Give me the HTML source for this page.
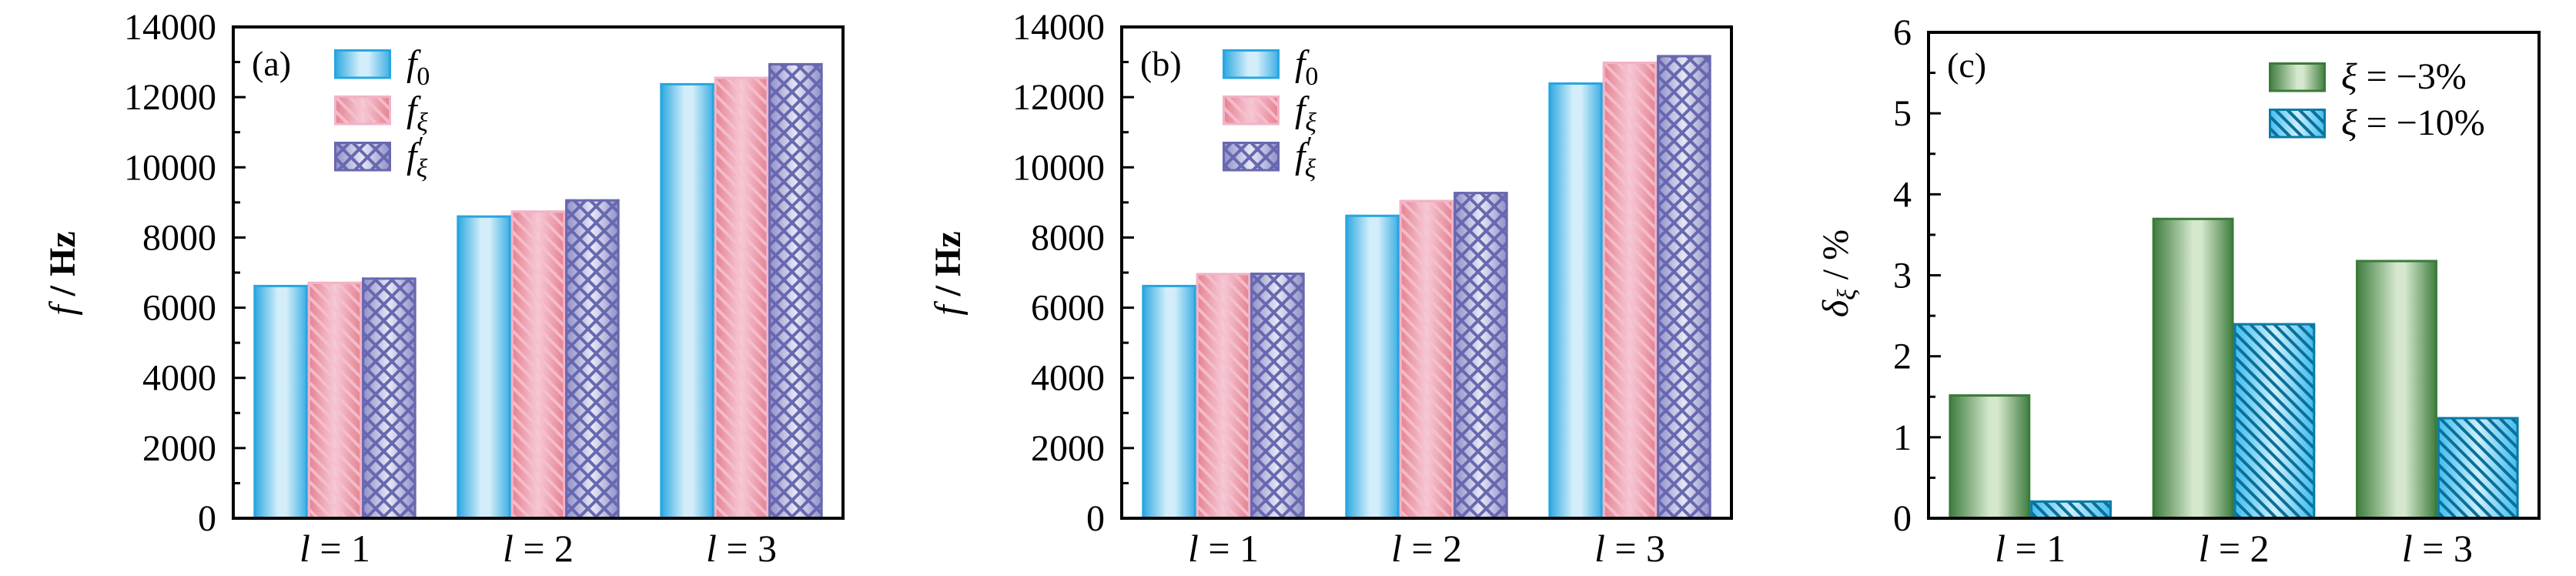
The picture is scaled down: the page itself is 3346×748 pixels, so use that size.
<!DOCTYPE html>
<html><head><meta charset="utf-8"><style>
html,body{margin:0;padding:0;background:#fff;}
svg{display:block;}
svg text{font-family:"Liberation Serif","DejaVu Serif",serif;}
</style></head>
<body>
<svg id="chart" width="3346" height="748" viewBox="0 0 3346 748" xmlns="http://www.w3.org/2000/svg">
<defs>
  <linearGradient id="gBlue" x1="0" x2="1" y1="0" y2="0">
    <stop offset="0" stop-color="#27a6e0"/><stop offset="0.45" stop-color="#d3eefa"/><stop offset="0.6" stop-color="#d3eefa"/><stop offset="1" stop-color="#36ace2"/>
  </linearGradient>
  <linearGradient id="gPink" x1="0" x2="1" y1="0" y2="0">
    <stop offset="0" stop-color="#e57f8d"/><stop offset="0.5" stop-color="#f5c9d5"/><stop offset="1" stop-color="#e57f8d"/>
  </linearGradient>
  <linearGradient id="gPurple" x1="0" x2="1" y1="0" y2="0">
    <stop offset="0" stop-color="#8c8cc6"/><stop offset="0.5" stop-color="#e6e6f5"/><stop offset="1" stop-color="#8c8cc6"/>
  </linearGradient>
  <linearGradient id="gGreen" x1="0" x2="1" y1="0" y2="0">
    <stop offset="0" stop-color="#3b7a3b"/><stop offset="0.5" stop-color="#d5e8cd"/><stop offset="0.6" stop-color="#d5e8cd"/><stop offset="1" stop-color="#3b7a3b"/>
  </linearGradient>
  <linearGradient id="gCyan" x1="0" x2="1" y1="0" y2="0">
    <stop offset="0" stop-color="#3cbcef"/><stop offset="0.5" stop-color="#cdeffc"/><stop offset="1" stop-color="#3cbcef"/>
  </linearGradient>
  <pattern id="pPink" width="13" height="13" patternUnits="userSpaceOnUse" patternTransform="rotate(45)">
    <rect x="0" y="0" width="13" height="4" fill="#f7bfd0" opacity="0.9"/>
  </pattern>
  <pattern id="pPurple" width="15" height="15" patternUnits="userSpaceOnUse" patternTransform="rotate(45)">
    <rect x="0" y="0" width="15" height="4" fill="#6868b0"/>
    <rect x="0" y="0" width="4" height="15" fill="#6868b0"/>
  </pattern>
  <pattern id="pCyan" width="11" height="11" patternUnits="userSpaceOnUse" patternTransform="rotate(45)">
    <rect x="0" y="0" width="11" height="4" fill="#0b6f98"/>
  </pattern>
</defs>
<g id="root" font-family="Liberation Serif, DejaVu Serif, serif"></g>
</svg>
<script>
// ---- data ----
const categories = ["l = 1", "l = 2", "l = 3"];
const aF0 = [6650, 8630, 12400];
const aFxi = [6740, 8770, 12580];
const aFxiP = [6860, 9090, 12970];
const bF0 = [6650, 8650, 12420];
const bFxi = [6990, 9070, 13010];
const bFxiP = [7000, 9300, 13200];
const cXi3 = [1.53, 3.71, 3.19];
const cXi10 = [0.22, 2.41, 1.25];
const fTicks = [0, 2000, 4000, 6000, 8000, 10000, 12000, 14000];
const dTicks = [0, 1, 2, 3, 4, 5, 6];

const NS = "http://www.w3.org/2000/svg";
const root = document.getElementById("root");
function mk(tag, attrs, parent, text){
  const e = document.createElementNS(NS, tag);
  for (const k in attrs) e.setAttribute(k, attrs[k]);
  if (text !== undefined) e.textContent = text;
  (parent || root).appendChild(e);
  return e;
}

const styles = {
  blue:   {grad:"url(#gBlue)", pat:null, stroke:"#27a6e0"},
  pink:   {grad:"url(#gPink)", pat:"url(#pPink)", stroke:"#f1b3c8"},
  purple: {grad:"url(#gPurple)", pat:"url(#pPurple)", stroke:"#6868b0"},
  green:  {grad:"url(#gGreen)", pat:null, stroke:"#3b7a3b"},
  cyan:   {grad:"url(#gCyan)", pat:"url(#pCyan)", stroke:"#0b7aa5"}
};

function drawBar(g, x, y, w, h, st, name){
  const bg = mk("g", {}, g);
  
  
  mk("rect", {x:x, y:y, width:w, height:h, fill:st.grad}, bg);
  if (st.pat) mk("rect", {x:x, y:y, width:w, height:h, fill:st.pat}, bg);
  mk("rect", {x:x+1.5, y:y+1.5, width:Math.max(0,w-3), height:Math.max(0,h-1.5), fill:"none", stroke:st.stroke, "stroke-width":3}, bg);
}

function panel(opt){
  const g = mk("g", {});
  
  
  const {x0,x1,y0,y1,ymax} = opt;
  const ys = v => y1 - v / ymax * (y1 - y0);
  const cw = (x1 - x0) / categories.length;
  const bw = cw * 0.8 / opt.series.length;
  opt.series.forEach((s, si) => {
    s.values.forEach((v, ci) => {
      const bx = x0 + cw*ci + cw*0.1 + bw*si;
      drawBar(g, bx, ys(v), bw, y1 - ys(v), styles[s.style], "bar-" + s.key + "-l" + (ci+1));
    });
  });
  opt.ticks.forEach(t => {
    const y = ys(t);
    const tl = mk("line", {x1:x0, x2:x0+16, y1:y, y2:y, stroke:"#000", "stroke-width":3}, g);
    
    
    const lb = mk("text", {x:x0-22, y:y+16, "font-size":48, "text-anchor":"end"}, g, String(t));
    
    
  });
  for (let i = 0; i < opt.ticks.length - 1; i++){
    const y = ys((opt.ticks[i] + opt.ticks[i+1]) / 2);
    const mt = mk("line", {x1:x0, x2:x0+9, y1:y, y2:y, stroke:"#000", "stroke-width":3}, g);
    
    
  }
  const fr = mk("rect", {x:x0, y:y0, width:x1-x0, height:y1-y0, fill:"none", stroke:"#000", "stroke-width":4}, g);
  
  
  categories.forEach((c, ci) => {
    const cx = x0 + cw*ci + cw/2;
    const t = mk("text", {x:cx, y:729, "font-size":50, "text-anchor":"middle"}, g);
    
    
    const parts = c.split(" = ");
    mk("tspan", {"font-style":"italic"}, t, parts[0]);
    mk("tspan", {}, t, " = " + parts[1]);
  });
  const pl = mk("text", {x:x0+24, y:opt.labelY, "font-size":46}, g, opt.label);
  
  
  const yt = mk("text", {x:0, y:0, "font-size":48, "text-anchor":"middle", transform:"translate(" + opt.ytX + ",355) rotate(-90)"}, g);
  
  
  opt.ytitle(yt);
  const lg = mk("g", {}, g);
  
  
  opt.series.forEach((s, si) => {
    const e = mk("g", {}, lg);
    
    
    const sy = opt.legY + si*opt.legStep;
    drawBar(e, opt.legX, sy, 74, 37, styles[s.style], 'legend-swatch-' + s.key);
    const tx = mk("text", {x:opt.legX+94, y:sy+34, "font-size":48}, e);
    s.label(tx);
  });
}

function fLabels(sub, prime){
  return function(t){
    mk("tspan", {"font-style":"italic"}, t, "f");
    if (prime) mk("tspan", {"font-size":34, dy:-18, dx:2}, t, "′");
    mk("tspan", {"font-size":34, dy: prime ? 30 : 12, dx: prime ? -10 : 0, "font-style": sub==="0" ? "normal" : "italic"}, t, sub);
  };
}
function fTitle(t){
  mk("tspan", {"font-style":"italic"}, t, "f");
  mk("tspan", {"font-weight":"bold"}, t, " / Hz");
}

const fSeries = (v0, v1, v2) => [
  {key:"f0", style:"blue", values:v0, label:fLabels("0", false)},
  {key:"fxi", style:"pink", values:v1, label:fLabels("ξ", false)},
  {key:"fxi-prime", style:"purple", values:v2, label:fLabels("ξ", true)}
];

panel({name:"panel-a", x0:303, x1:1095, y0:35, y1:673, ymax:14000, ticks:fTicks,
  series:fSeries(aF0, aFxi, aFxiP), label:"(a)", labelY:98, ytX:97, ytitle:fTitle,
  legX:434, legY:64, legStep:60});
panel({name:"panel-b", x0:1457, x1:2249, y0:35, y1:673, ymax:14000, ticks:fTicks,
  series:fSeries(bF0, bFxi, bFxiP), label:"(b)", labelY:98, ytX:1247, ytitle:fTitle,
  legX:1588, legY:64, legStep:60});
panel({name:"panel-c", x0:2505, x1:3298, y0:42, y1:673, ymax:6, ticks:dTicks,
  series:[
    {key:"xi-3", style:"green", values:cXi3, label:function(t){ mk("tspan",{"font-style":"italic"},t,"ξ"); mk("tspan",{},t," = −3%"); }},
    {key:"xi-10", style:"cyan", values:cXi10, label:function(t){ mk("tspan",{"font-style":"italic"},t,"ξ"); mk("tspan",{},t," = −10%"); }}
  ], label:"(c)", labelY:100, ytX:2400,
  ytitle:function(t){ mk("tspan",{"font-style":"italic"},t,"δ"); mk("tspan",{"font-style":"italic","font-size":34,dy:10},t,"ξ"); mk("tspan",{dy:-10},t," / %"); },
  legX:2947, legY:81, legStep:60});
</script>
</body></html>
